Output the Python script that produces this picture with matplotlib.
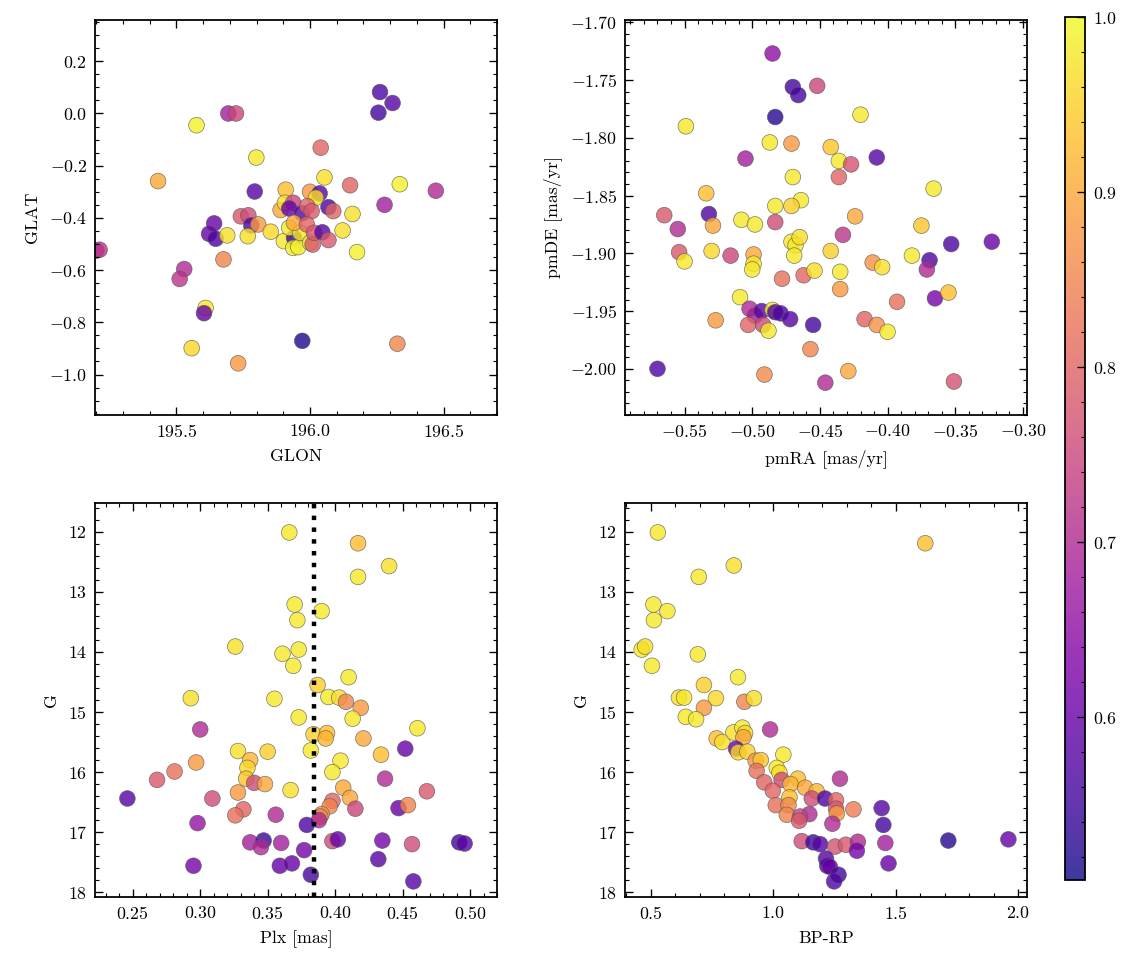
import numpy as np
import matplotlib
matplotlib.use("Agg")
import matplotlib.pyplot as plt
from matplotlib.ticker import AutoMinorLocator, MultipleLocator

# --- du lieu doc tu hinh ---
# o 1: vi tri tren bau troi
glon = [195.575, 195.694, 195.723, 196.262, 196.309, 196.256, 196.040, 195.799,
        195.431, 195.793, 195.909, 196.054, 196.150, 196.336, 196.471, 196.000,
        196.036, 196.022, 196.279, 196.069, 196.087, 196.159, 195.890, 195.906,
        195.937, 195.922, 195.971, 195.990, 196.006, 195.741, 195.769, 195.641,
        195.780, 195.806, 195.622, 195.647, 195.690, 195.767, 195.853, 195.902,
        195.940, 195.937, 195.956, 195.922, 195.963, 195.940, 195.988, 196.000,
        196.010, 196.015, 196.046, 196.069, 196.122, 196.176, 195.200, 195.212,
        195.676, 195.529, 195.512, 195.609, 195.603, 195.971, 196.327, 195.557,
        195.731]
glat = [-0.045, 0.000, 0.000, 0.082, 0.040, 0.003, -0.131, -0.169,
        -0.259, -0.299, -0.292, -0.245, -0.275, -0.271, -0.296, -0.300,
        -0.306, -0.323, -0.350, -0.359, -0.374, -0.385, -0.370, -0.342,
        -0.342, -0.364, -0.382, -0.355, -0.374, -0.394, -0.390, -0.421,
        -0.429, -0.425, -0.461, -0.480, -0.467, -0.470, -0.453, -0.489,
        -0.476, -0.515, -0.512, -0.438, -0.457, -0.419, -0.425, -0.495,
        -0.502, -0.457, -0.455, -0.485, -0.448, -0.531, -0.525, -0.522,
        -0.559, -0.596, -0.634, -0.745, -0.765, -0.871, -0.882, -0.899,
        -0.957]
p_pos = [0.99, 0.68, 0.75, 0.57, 0.58, 0.56, 0.80, 0.98,
         0.90, 0.58, 0.93, 0.97, 0.80, 0.99, 0.70, 0.88,
         0.58, 0.97, 0.68, 0.57, 0.80, 0.97, 0.90, 0.97,
         0.75, 0.60, 0.58, 0.80, 0.78, 0.78, 0.76, 0.60,
         0.57, 0.88, 0.60, 0.57, 0.97, 0.97, 0.96, 0.98,
         0.55, 0.99, 0.99, 0.98, 0.98, 0.90, 0.80, 0.97,
         0.78, 0.78, 0.58, 0.78, 0.97, 0.99, 0.70, 0.72,
         0.85, 0.70, 0.72, 0.98, 0.60, 0.52, 0.85, 0.96,
         0.88]

# o 2: chuyen dong rieng
pmra = [-0.485, -0.470, -0.466, -0.452, -0.483, -0.420, -0.549, -0.487,
        -0.471, -0.442, -0.505, -0.436, -0.427, -0.408, -0.436, -0.470,
        -0.366, -0.534, -0.464, -0.483, -0.471, -0.565, -0.532, -0.508,
        -0.498, -0.483, -0.424, -0.375, -0.555, -0.529, -0.471, -0.468,
        -0.465, -0.433, -0.353, -0.323, -0.554, -0.550, -0.530, -0.516,
        -0.499, -0.499, -0.500, -0.469, -0.442, -0.478, -0.462, -0.454,
        -0.435, -0.411, -0.404, -0.382, -0.369, -0.371, -0.435, -0.393,
        -0.365, -0.355, -0.509, -0.502, -0.498, -0.493, -0.485, -0.483,
        -0.479, -0.472, -0.503, -0.492, -0.488, -0.455, -0.527, -0.417,
        -0.408, -0.400, -0.457, -0.570, -0.491, -0.429, -0.446, -0.351]
pmde = [-1.727, -1.756, -1.763, -1.755, -1.782, -1.780, -1.790, -1.804,
        -1.805, -1.808, -1.818, -1.820, -1.823, -1.817, -1.834, -1.834,
        -1.844, -1.848, -1.854, -1.859, -1.859, -1.867, -1.866, -1.871,
        -1.875, -1.873, -1.868, -1.876, -1.879, -1.876, -1.890, -1.893,
        -1.886, -1.884, -1.892, -1.890, -1.899, -1.907, -1.898, -1.902,
        -1.901, -1.909, -1.914, -1.902, -1.898, -1.922, -1.919, -1.915,
        -1.916, -1.908, -1.912, -1.902, -1.906, -1.914, -1.931, -1.942,
        -1.939, -1.934, -1.938, -1.948, -1.954, -1.950, -1.949, -1.951,
        -1.952, -1.957, -1.962, -1.962, -1.967, -1.962, -1.958, -1.957,
        -1.962, -1.968, -1.983, -2.000, -2.005, -2.002, -2.012, -2.011]
p_pm = [0.65, 0.56, 0.56, 0.75, 0.53, 0.98, 0.98, 0.98,
        0.88, 0.94, 0.68, 0.98, 0.77, 0.58, 0.80, 0.98,
        0.98, 0.93, 0.98, 0.98, 0.95, 0.78, 0.57, 0.98,
        0.98, 0.76, 0.90, 0.94, 0.70, 0.90, 0.98, 0.98,
        0.97, 0.72, 0.57, 0.60, 0.78, 0.98, 0.96, 0.75,
        0.90, 0.98, 0.98, 0.98, 0.95, 0.82, 0.80, 0.97,
        0.98, 0.87, 0.97, 0.98, 0.57, 0.70, 0.88, 0.82,
        0.62, 0.93, 0.98, 0.70, 0.68, 0.58, 0.98, 0.57,
        0.57, 0.58, 0.80, 0.76, 0.98, 0.56, 0.88, 0.80,
        0.87, 0.98, 0.85, 0.57, 0.86, 0.90, 0.70, 0.77]

# o 3: thi sai va do sang G
plx = [0.366, 0.417, 0.440, 0.417, 0.370, 0.390, 0.372, 0.326,
       0.361, 0.373, 0.369, 0.410, 0.387, 0.293, 0.355, 0.395,
       0.403, 0.408, 0.419, 0.373, 0.413, 0.461, 0.300, 0.384,
       0.394, 0.393, 0.382, 0.421, 0.328, 0.350, 0.337, 0.335,
       0.297, 0.404, 0.452, 0.434, 0.398, 0.281, 0.268, 0.334,
       0.340, 0.348, 0.367, 0.406, 0.437, 0.468, 0.328, 0.411,
       0.398, 0.396, 0.390, 0.389, 0.309, 0.332, 0.326, 0.356,
       0.415, 0.447, 0.454, 0.388, 0.379, 0.298, 0.246, 0.337,
       0.347, 0.345, 0.360, 0.377, 0.398, 0.402, 0.435, 0.457,
       0.492, 0.496, 0.295, 0.359, 0.368, 0.432, 0.382, 0.458]
g_plx = [12.01, 12.19, 12.57, 12.75, 13.21, 13.32, 13.47, 13.91,
         14.03, 13.96, 14.23, 14.42, 14.55, 14.77, 14.78, 14.75,
         14.76, 14.83, 14.93, 15.09, 15.11, 15.27, 15.29, 15.37,
         15.35, 15.44, 15.64, 15.44, 15.65, 15.66, 15.80, 15.93,
         15.84, 15.81, 15.61, 15.71, 16.00, 15.99, 16.13, 16.11,
         16.18, 16.20, 16.30, 16.26, 16.11, 16.32, 16.34, 16.43,
         16.48, 16.57, 16.70, 16.74, 16.44, 16.62, 16.72, 16.71,
         16.61, 16.60, 16.55, 16.80, 16.88, 16.85, 16.44, 17.17,
         17.14, 17.25, 17.18, 17.30, 17.15, 17.12, 17.14, 17.20,
         17.17, 17.19, 17.56, 17.56, 17.52, 17.45, 17.71, 17.82]
p_plx = [0.98, 0.93, 0.97, 0.98, 0.98, 0.98, 0.98, 0.97,
         0.98, 0.98, 0.98, 0.98, 0.95, 0.97, 0.98, 0.98,
         0.97, 0.85, 0.88, 0.98, 0.98, 0.98, 0.70, 0.95,
         0.93, 0.92, 0.98, 0.90, 0.97, 0.95, 0.92, 0.96,
         0.88, 0.98, 0.60, 0.93, 0.98, 0.82, 0.78, 0.94,
         0.76, 0.90, 0.97, 0.90, 0.70, 0.78, 0.88, 0.90,
         0.80, 0.85, 0.88, 0.85, 0.76, 0.80, 0.82, 0.70,
         0.75, 0.60, 0.85, 0.70, 0.57, 0.66, 0.58, 0.68,
         0.55, 0.70, 0.68, 0.62, 0.76, 0.60, 0.62, 0.76,
         0.56, 0.58, 0.62, 0.60, 0.60, 0.58, 0.56, 0.58]
plx_median = 0.3847

# o 4: bieu do mau - do sang
bprp = [0.529, 1.620, 0.839, 0.696, 0.511, 0.568, 0.513, 0.463,
        0.477, 0.692, 0.505, 0.856, 0.717, 0.615, 0.636, 0.766,
        0.717, 0.882, 0.921, 0.643, 0.685, 0.987, 0.769, 0.792,
        0.837, 0.874, 0.885, 0.878, 0.848, 0.857, 0.894, 1.041,
        0.928, 0.949, 0.932, 1.014, 1.025, 0.963, 1.034, 1.100,
        1.070, 1.272, 0.998, 1.130, 1.177, 1.066, 1.157, 1.211,
        1.256, 1.256, 1.259, 1.010, 1.062, 1.055, 1.327, 1.147,
        1.109, 1.105, 1.241, 1.442, 1.449, 1.116, 1.163, 1.191,
        1.252, 1.296, 1.345, 1.341, 1.457, 1.714, 1.959, 1.215,
        1.220, 1.231, 1.470, 1.266, 1.248]
g_cmd = [12.01, 12.19, 12.56, 12.75, 13.21, 13.32, 13.47, 13.96,
         13.91, 14.04, 14.23, 14.42, 14.55, 14.76, 14.76, 14.77,
         14.93, 14.83, 14.77, 15.08, 15.12, 15.29, 15.44, 15.50,
         15.34, 15.26, 15.35, 15.42, 15.61, 15.67, 15.66, 15.71,
         15.81, 15.80, 15.98, 15.93, 16.01, 16.17, 16.13, 16.11,
         16.20, 16.11, 16.31, 16.26, 16.32, 16.42, 16.44, 16.44,
         16.47, 16.61, 16.69, 16.55, 16.55, 16.71, 16.62, 16.70,
         16.74, 16.81, 16.86, 16.60, 16.88, 17.15, 17.17, 17.20,
         17.24, 17.21, 17.16, 17.31, 17.18, 17.14, 17.12, 17.44,
         17.56, 17.58, 17.52, 17.71, 17.82]
p_cmd = [0.98, 0.93, 0.97, 0.98, 0.98, 0.98, 0.98, 0.98,
         0.97, 0.98, 0.98, 0.98, 0.95, 0.97, 0.98, 0.96,
         0.88, 0.85, 0.97, 0.98, 0.98, 0.70, 0.93, 0.97,
         0.97, 0.98, 0.96, 0.90, 0.60, 0.96, 0.95, 0.98,
         0.88, 0.94, 0.82, 0.98, 0.97, 0.80, 0.76, 0.93,
         0.92, 0.70, 0.80, 0.90, 0.92, 0.93, 0.76, 0.57,
         0.80, 0.78, 0.88, 0.82, 0.86, 0.85, 0.84, 0.70,
         0.74, 0.78, 0.70, 0.58, 0.56, 0.76, 0.55, 0.58,
         0.77, 0.78, 0.70, 0.62, 0.68, 0.53, 0.60, 0.58,
         0.57, 0.60, 0.60, 0.56, 0.57]

p_min, p_max = 0.507, 1.0

# --- kieu chu giong SciencePlots ---
plt.rcParams['font.family'] = 'serif'
plt.rcParams['font.serif'] = ['cmr10']
plt.rcParams['mathtext.fontset'] = 'cm'
plt.rcParams['axes.formatter.use_mathtext'] = True
plt.rcParams['font.size'] = 8
plt.rcParams['axes.linewidth'] = 0.8
for truc in ['xtick', 'ytick']:
    plt.rcParams[truc + '.direction'] = 'in'
    plt.rcParams[truc + '.major.size'] = 3.5
    plt.rcParams[truc + '.minor.size'] = 1.8
    plt.rcParams[truc + '.major.width'] = 0.6
    plt.rcParams[truc + '.minor.width'] = 0.5
    plt.rcParams[truc + '.minor.visible'] = True
plt.rcParams['xtick.top'] = True
plt.rcParams['ytick.right'] = True

W, H = 1133, 965
fig = plt.figure(figsize=(W / 160, H / 160), dpi=160)


def tao_truc(x0, y0, x1, y1):
    # toa do pixel -> toa do hinh
    return fig.add_axes([x0 / W, 1 - y1 / H, (x1 - x0) / W, (y1 - y0) / H])


ax1 = tao_truc(95, 20, 497, 415)
ax2 = tao_truc(625, 20, 1027, 415)
ax3 = tao_truc(95, 503, 497, 897)
ax4 = tao_truc(625, 503, 1027, 897)
cax = tao_truc(1065, 17, 1085, 880)

kieu = dict(cmap='plasma', vmin=p_min, vmax=p_max, s=50, alpha=0.8,
            edgecolors='#555555', linewidths=0.3)

sc = ax1.scatter(glon, glat, c=p_pos, **kieu)
ax1.set_xlim(195.195, 196.70)
ax1.set_ylim(-1.155, 0.358)
ax1.xaxis.set_major_locator(MultipleLocator(0.5))
ax1.xaxis.set_minor_locator(AutoMinorLocator(5))
ax1.set_xlabel('GLON')
ax1.set_ylabel('GLAT')

ax2.scatter(pmra, pmde, c=p_pm, **kieu)
ax2.set_xlim(-0.594, -0.297)
ax2.set_ylim(-2.040, -1.698)
ax2.set_xlabel('pmRA [mas/yr]')
ax2.set_ylabel('pmDE [mas/yr]')

ax3.scatter(plx, g_plx, c=p_plx, **kieu)
ax3.axvline(plx_median, color='black', linestyle=':', linewidth=2)
ax3.set_xlim(0.222, 0.520)
ax3.set_ylim(18.08, 11.52)
ax3.set_xlabel('Plx [mas]')
ax3.set_ylabel('G')

ax4.scatter(bprp, g_cmd, c=p_cmd, **kieu)
ax4.set_xlim(0.395, 2.035)
ax4.set_ylim(18.08, 11.52)
ax4.xaxis.set_major_locator(MultipleLocator(0.5))
ax4.xaxis.set_minor_locator(AutoMinorLocator(5))
ax4.set_xlabel('BP-RP')
ax4.set_ylabel('G')

cb = fig.colorbar(sc, cax=cax)
cb.solids.set_alpha(0.8)
cb.set_ticks([0.6, 0.7, 0.8, 0.9, 1.0])
cb.ax.yaxis.set_minor_locator(AutoMinorLocator(5))
cb.ax.tick_params(which='both', direction='in')

fig.savefig('out.png', dpi=160)
